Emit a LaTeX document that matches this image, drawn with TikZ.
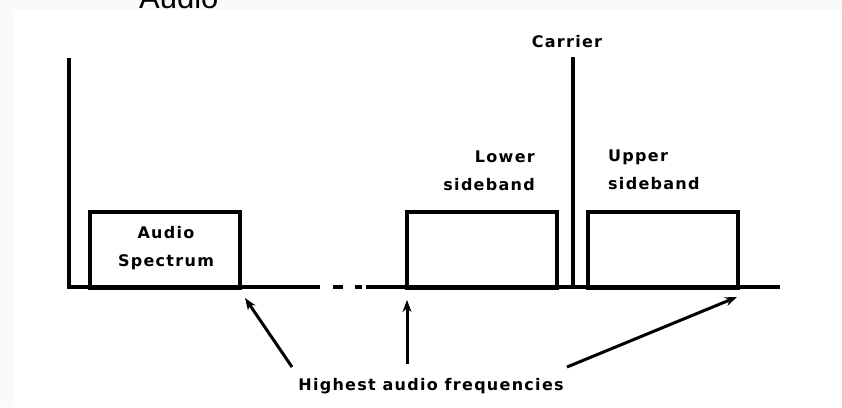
\documentclass[tikz,border=0pt]{standalone}
\usepackage{fontspec}
\usetikzlibrary{arrows.meta}
\newfontfamily\labfont[LetterSpace=8]{DejaVu Sans Bold}
\newfontfamily\arialfont{Liberation Sans}
\definecolor{pagegray}{HTML}{FAFAFA}
\tikzset{
  axisline/.style={line width=4pt},
  bandbox/.style={draw, line width=4pt, minimum width=150pt, minimum height=76pt, inner sep=0pt},
  lab/.style={font={\labfont\fontsize{16}{28}\selectfont}, inner sep=0pt},
  pointer/.style={line width=3pt, -{Stealth[length=12pt,width=9pt]}}
}
\begin{document}
\begin{tikzpicture}[x=1pt,y=-1pt]
\useasboundingbox (0,0) rectangle (842,407);
\fill[pagegray] (0,0) rectangle (842,407);
\fill[white] (13,10) rectangle (842,407);
\begin{scope}
\clip (0,0) rectangle (842,407);
\node[anchor=base west, inner sep=0pt, font={\arialfont\fontsize{31}{31}\selectfont}] (stray) at (139,8) {Audio};
\end{scope}
% axes
\draw[axisline] (69,58) -- (69,289);
\draw[axisline] (67,287) -- (320,287);
\draw[axisline] (333,287) -- (343,287);
\draw[axisline] (355,287) -- (362,287);
\draw[axisline] (366,287) -- (780,287);
% boxes
\node[bandbox] (audiobox) at (165,249.5) {};
\node[bandbox] (lowerbox) at (482,249.5) {};
\node[bandbox] (upperbox) at (663,249.5) {};
% carrier
\draw[axisline] (573,57) -- (573,287);
% labels
\node[lab, align=center] (audiolab) at (166,248) {Audio\\Spectrum};
\node[lab, align=right, anchor=east] (lowerlab) at (535,171) {Lower\\sideband};
\node[lab, align=left, anchor=west] (upperlab) at (608,170) {Upper\\sideband};
\node[lab] (carrierlab) at (567,42) {Carrier};
\node[lab] (highlab) at (431,386) {Highest audio frequencies};
% arrows
\coordinate (s1) at (292,367);
\coordinate (t1) at (245,298);
\coordinate (s2) at (407,364);
\coordinate (t2) at (407,300);
\coordinate (s3) at (567,367);
\coordinate (t3) at (737,297);
\draw[pointer] (s1) -- (t1);
\draw[pointer] (s2) -- (t2);
\draw[pointer] (s3) -- (t3);
\end{tikzpicture}
\end{document}
